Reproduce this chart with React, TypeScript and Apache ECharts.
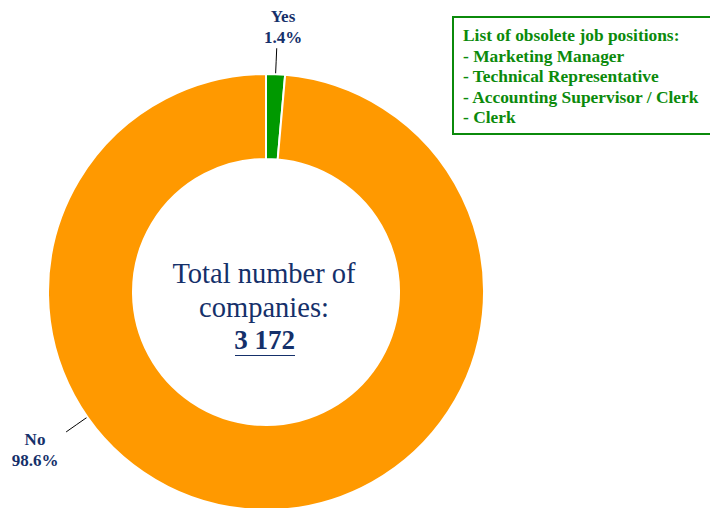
import React, { useEffect, useRef } from "react";
import * as echarts from "echarts";

const categories = ["Yes", "No"];
const percentValues = [1.4, 98.6];
const sliceColors = ["#009900", "#FF9900"];
const totalCompanies = "3 172";
const centerLines = ["Total number of", "companies:"];
const boxTitle = "List of obsolete job positions:";
const obsoletePositions = [
  "Marketing Manager",
  "Technical Representative",
  "Accounting Supervisor / Clerk",
  "Clerk",
];

const NAVY = "#15306A";
const GREEN_TEXT = "#0B8A0B";
const SERIF = "Liberation Serif";

export default function App() {
  const ref = useRef<HTMLDivElement>(null);

  useEffect(() => {
    if (!ref.current) return;
    const chart = echarts.init(ref.current, undefined, { renderer: "svg" });
    const cx = 266;
    const cy = 292;
    const rOuter = 218;
    const rInner = 133;
    const rLine = 244;

    const yesMid = 90 - (percentValues[0] / 100) * 360 / 2;
    const anchorAngles = [yesMid, 215];
    const labelPos = [
      [283, 27],
      [35, 450],
    ];

    const pt = (deg: number, r: number) => {
      const a = (deg * Math.PI) / 180;
      return [cx + r * Math.cos(a), cy - r * Math.sin(a)];
    };

    chart.setOption({
      animation: false,
      backgroundColor: "#ffffff",
      series: [
        {
          type: "pie",
          center: [cx, cy],
          radius: [rInner, rOuter],
          startAngle: 90,
          clockwise: true,
          avoidLabelOverlap: false,
          itemStyle: { borderColor: "#ffffff", borderWidth: 2 },
          label: {
            show: true,
            position: "outside",
            formatter: (p: any) => `${p.name}\n${p.value}%`,
            fontFamily: SERIF,
            fontWeight: "bold",
            fontSize: 17,
            lineHeight: 21,
            color: NAVY,
          },
          labelLine: {
            show: true,
            lineStyle: { color: "#000000", width: 1 },
          },
          labelLayout: (params: any) => {
            const i = params.dataIndex;
            const ang = anchorAngles[i];
            const p0 = pt(ang, rOuter);
            const p1 = pt(ang, rLine);
            return {
              x: labelPos[i][0],
              y: labelPos[i][1],
              align: "center",
              verticalAlign: "middle",
              labelLinePoints: [p0, [(p0[0] + p1[0]) / 2, (p0[1] + p1[1]) / 2], p1],
            };
          },
          data: categories.map((c, i) => ({
            name: c,
            value: percentValues[i],
            itemStyle: { color: sliceColors[i] },
          })),
        },
      ],
      graphic: [
        {
          type: "rect",
          shape: { x: 453, y: 17, width: 300, height: 117 },
          style: { fill: "#ffffff", stroke: "#0B8A0B", lineWidth: 2 },
          z: 10,
        },
        ...[boxTitle, ...obsoletePositions.map((s) => "- " + s)].map((t, i) => ({
          type: "text",
          x: 463,
          y: 35 + i * 20.5,
          z: 11,
          style: {
            text: t,
            fill: GREEN_TEXT,
            fontFamily: SERIF,
            fontWeight: "bold",
            fontSize: 17.4,
            textAlign: "left",
            textVerticalAlign: "middle",
          },
        })),
        ...centerLines.map((t, i) => ({
          type: "text",
          x: 264,
          y: 273 + i * 34,
          z: 11,
          style: {
            text: t,
            fill: NAVY,
            fontFamily: SERIF,
            fontSize: 28.5,
            textAlign: "center",
            textVerticalAlign: "middle",
          },
        })),
        {
          type: "text",
          x: 264.5,
          y: 340,
          z: 11,
          style: {
            text: totalCompanies,
            fill: NAVY,
            fontFamily: SERIF,
            fontWeight: "bold",
            fontSize: 27,
            textAlign: "center",
            textVerticalAlign: "middle",
          },
        },
        {
          type: "line",
          z: 11,
          shape: { x1: 235, y1: 355.5, x2: 295, y2: 355.5 },
          style: { stroke: NAVY, lineWidth: 1.2 },
        },
      ],
    });
    return () => chart.dispose();
  }, []);

  return (
    <div
      ref={ref}
      style={{ position: "fixed", left: 0, top: 0, width: 710, height: 508 }}
    />
  );
}
